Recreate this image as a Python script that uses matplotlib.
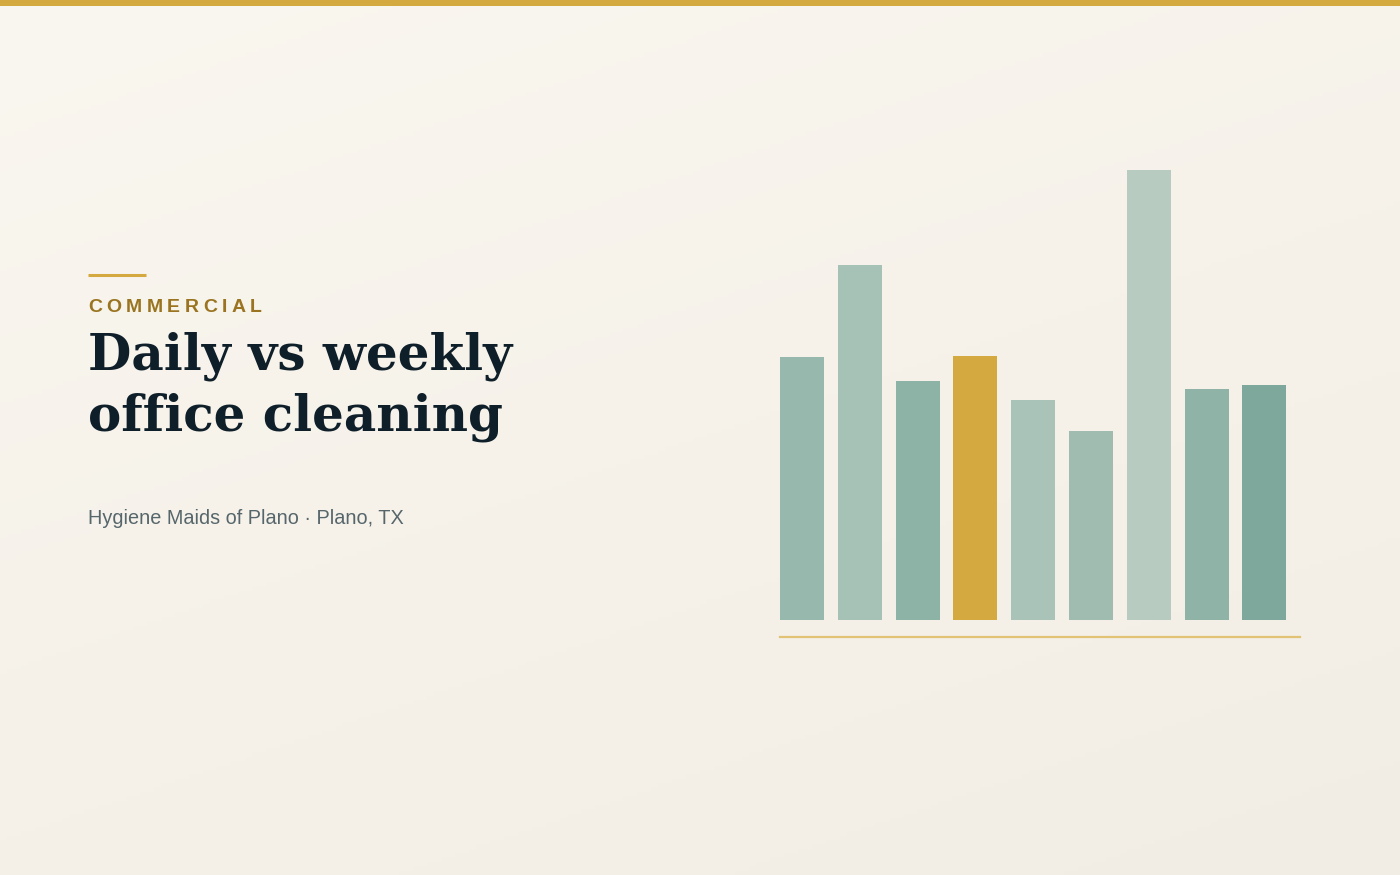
import numpy as np
import matplotlib
matplotlib.use("Agg")
import matplotlib.pyplot as plt
from matplotlib.lines import Line2D
from matplotlib.patches import Rectangle

# bar heights (relative units)
BAR_VALUES = [263, 355, 239, 264, 220, 189, 450, 231, 235]
BAR_COLORS = ["#97b8ad", "#a6c2b7", "#8db3a7", "#d4aa40", "#aac3b8",
              "#a0bcb1", "#b7cbc0", "#90b3a8", "#7fa89c"]

KICKER = "COMMERCIAL"
TITLE_LINES = ["Daily vs weekly", "office cleaning"]
SUBTITLE = "Hygiene Maids of Plano \u00b7 Plano, TX"

W, H = 1400, 875
DPI = 100

fig = plt.figure(figsize=(W / DPI, H / DPI), dpi=DPI)


def fx(px):
    return px / W


def fy(py):
    return 1 - py / H


# background gradient
bg = fig.add_axes([0, 0, 1, 1], zorder=-10)
yy, xx = np.mgrid[0:1:200j, 0:1:200j]
t = np.clip(0.35 * xx + 0.65 * yy, 0, 1)
c0 = np.array([0xfa, 0xf7, 0xf0]) / 255
c1 = np.array([0xf2, 0xed, 0xe4]) / 255
img = c0[None, None, :] * (1 - t[..., None]) + c1[None, None, :] * t[..., None]
bg.imshow(img, aspect="auto", extent=[0, 1, 1, 0])
bg.set_axis_off()

# top stripe
fig.add_artist(Rectangle((0, fy(6)), 1, fy(0) - fy(6), transform=fig.transFigure,
                         color="#d4aa40", lw=0))

# small accent line
fig.add_artist(Line2D([fx(88), fx(146)], [fy(275), fy(275)], transform=fig.transFigure,
                      color="#d4aa40", lw=2.2, solid_capstyle="butt"))

renderer = fig.canvas.get_renderer()

# kicker with letter spacing
x = fx(88)
for ch in KICKER:
    t_ = fig.text(x, fy(312), ch, fontsize=14, fontweight="bold",
                  family="Liberation Sans", color="#9a7420", va="baseline")
    bb = t_.get_window_extent(renderer=renderer)
    x += (bb.width + 4.45) / W

# title, sized so the first line spans the same width as in the reference
probe = fig.text(0, 0, TITLE_LINES[0], fontsize=40, fontweight="bold",
                 family="DejaVu Serif")
tw = probe.get_window_extent(renderer=renderer).width
probe.remove()
title_size = 40 * 424 / tw
title_y = [370, 430]
for line, py in zip(TITLE_LINES, title_y):
    fig.text(fx(88), fy(py), line, fontsize=title_size, fontweight="bold",
             family="DejaVu Serif", color="#0f1f2a", va="baseline")

# subtitle
fig.text(fx(88), fy(524), SUBTITLE, fontsize=14.3, family="Liberation Sans",
         color="#56666b", va="baseline")

# bars
pitch = 57.8
width = 0.76
left = 780
right = 1300
n = len(BAR_VALUES)
ax = fig.add_axes([fx(left), fy(620), (right - left) / W, (620 - 169.7) / H])
ax.bar(np.arange(n), BAR_VALUES, width=width, color=BAR_COLORS, align="center")
ax.set_xlim(-width / 2, -width / 2 + (right - left) / pitch)
ax.set_ylim(0, max(BAR_VALUES))
ax.set_axis_off()

# baseline rule
fig.add_artist(Line2D([fx(780), fx(1300)], [fy(636.5), fy(636.5)], transform=fig.transFigure,
                      color="#e2c275", lw=1.6))

fig.savefig("out.png", dpi=DPI)
